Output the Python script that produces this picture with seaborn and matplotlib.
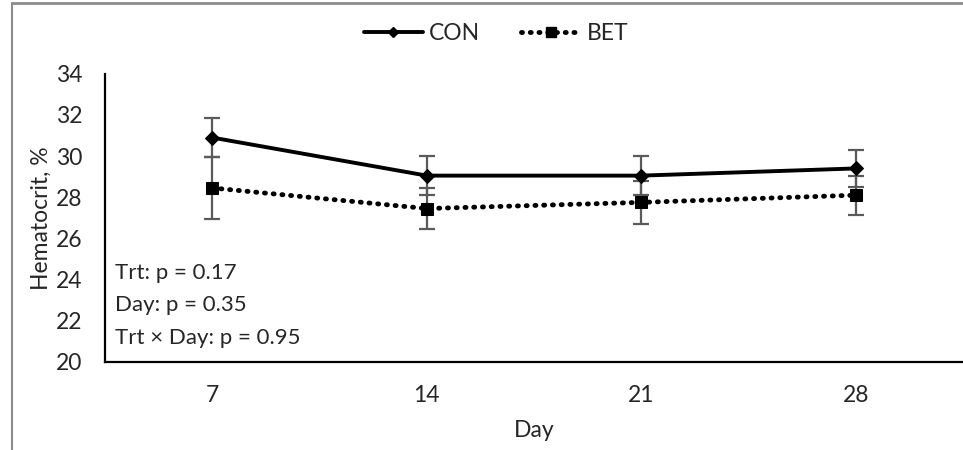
import pandas as pd
import numpy as np
import matplotlib.pyplot as plt
import seaborn as sns
from matplotlib.lines import Line2D

# values
days = ["7", "14", "21", "28"]
con_mean = [30.9, 29.05, 29.05, 29.4]
con_err = [0.95, 0.95, 0.95, 0.9]
bet_mean = [28.45, 27.45, 27.75, 28.1]
bet_err = [1.5, 1.0, 1.05, 0.95]
stats_text = ["Trt: p = 0.17", "Day: p = 0.35", "Trt \u00d7 Day: p = 0.95"]

sns.set_style("white")
plt.rcParams['font.family'] = ['Lato', 'DejaVu Sans']

df = pd.DataFrame({
    "Day": days * 2,
    "Hematocrit": con_mean + bet_mean,
    "Group": ["CON"] * len(days) + ["BET"] * len(days),
})

fig = plt.figure(figsize=(9.63, 4.5), dpi=100)
ax = fig.add_axes([0.109, 0.196, 0.891, 0.64])

# error bars first so the lines sit on top
ax.errorbar(days, con_mean, yerr=con_err, fmt="none", ecolor="#5a5a5a",
            elinewidth=1.6, capsize=6, capthick=1.6, zorder=2)
ax.errorbar(days, bet_mean, yerr=bet_err, fmt="none", ecolor="#5a5a5a",
            elinewidth=1.6, capsize=6, capthick=1.6, zorder=2)

sns.lineplot(data=df[df.Group == "CON"], x="Day", y="Hematocrit", ax=ax,
             color="black", linewidth=2.8, marker="D", markersize=7,
             markeredgecolor="black", sort=False, zorder=3)
sns.lineplot(data=df[df.Group == "BET"], x="Day", y="Hematocrit", ax=ax,
             color="black", linewidth=3.5, marker="s", markersize=9,
             markeredgecolor="black", sort=False, zorder=3)
ax.lines[-1].set_linestyle((0, (0.2, 1.6)))
ax.lines[-1].set_dash_capstyle("round")

ax.set_xlim(-0.5, 3.5)
ax.set_ylim(20, 34)
ax.set_yticks(range(20, 35, 2))
ax.tick_params(axis="both", labelsize=16.5, length=0)
ax.tick_params(axis="x", pad=17)
ax.tick_params(axis="y", pad=16)
ax.set_xlabel("Day", fontsize=16.5, labelpad=10)
ax.set_ylabel("Hematocrit, %", fontsize=16.5, labelpad=3)

for side in ["top", "right"]:
    ax.spines[side].set_visible(False)
for side in ["left", "bottom"]:
    ax.spines[side].set_color("black")
    ax.spines[side].set_linewidth(1.6)

for i, t in enumerate(stats_text):
    ax.text(0.012, 0.31 - i * 0.113, t, transform=ax.transAxes,
            fontsize=16, va="center", ha="left")

handles = [
    Line2D([], [], color="black", linewidth=2.8, marker="D", markersize=5),
    Line2D([], [], color="black", linewidth=3.5, marker="s", markersize=7,
           linestyle=(0, (0.2, 1.6)), dash_capstyle="round"),
]
fig.legend(handles, ["CON", "BET"], loc="center", bbox_to_anchor=(0.515, 0.925),
           ncol=2, frameon=False, fontsize=16.5, handlelength=2.6,
           handletextpad=0.25, columnspacing=1.8)

# grey chart-area border (cut off at right and bottom)
fig.add_artist(Line2D([12 / 963, 1], [1 - 3 / 450, 1 - 3 / 450],
                      transform=fig.transFigure, color="#8c8c8c", linewidth=2))
fig.add_artist(Line2D([12 / 963, 12 / 963], [0, 1 - 3 / 450],
                      transform=fig.transFigure, color="#8c8c8c", linewidth=1.5))

fig.savefig("out.png", dpi=100)
